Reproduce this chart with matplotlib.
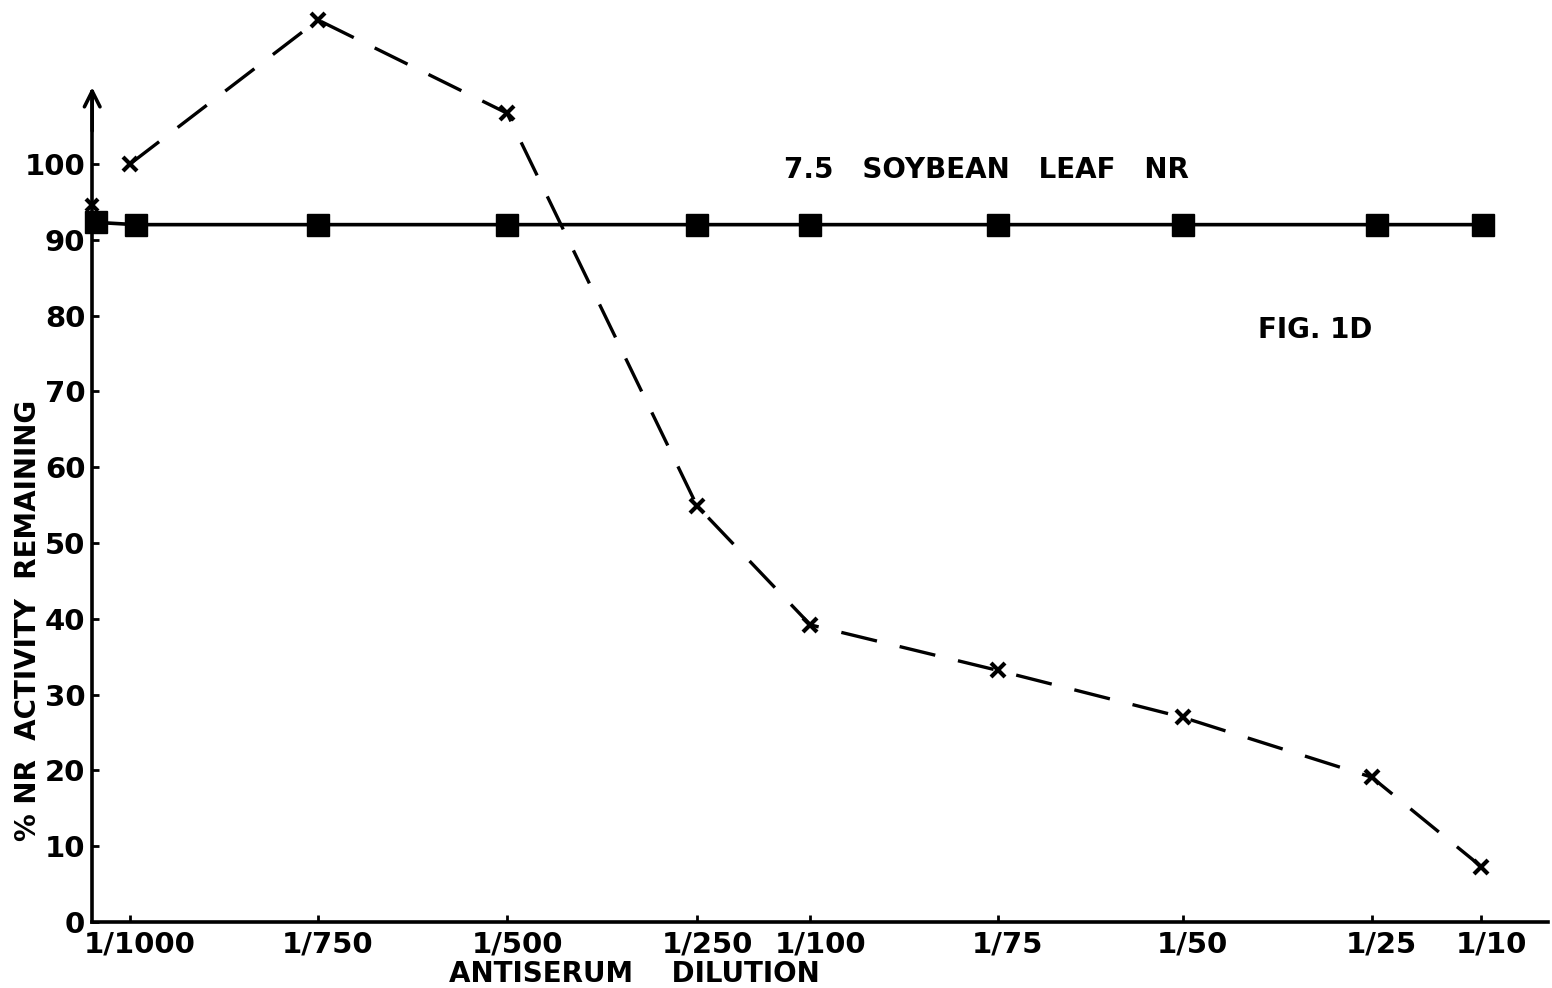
import matplotlib
matplotlib.use("Agg")
import matplotlib.pyplot as plt
from matplotlib.transforms import ScaledTranslation

# Data
dilutions = ['1/1000', '1/750', '1/500', '1/250', '1/100', '1/75', '1/50', '1/25', '1/10']
x_pos = [0, 0.995, 1.995, 3.0, 3.6, 4.59, 5.57, 6.57, 7.15]   # position of each dilution on the axis

axis_x = -0.2                     # first readings sit on the y axis
dashed_at_axis = 94.6
solid_at_axis = 92.3

dashed_vals = [100, 119, 106.7, 54.9, 39.2, 33.2, 27.0, 19.1, 7.3]
solid_vals = [92, 92, 92, 92, 92, 92, 92, 92, 92]
solid_x = [0.03, 0.995, 1.995, 3.0, 3.6, 4.59, 5.57, 6.6, 7.16]

yticks = [0, 10, 20, 30, 40, 50, 60, 70, 80, 90, 100]

plt.rcParams['font.family'] = ['DejaVu Sans']

fig = plt.figure(figsize=(15.52, 9.88), dpi=100)
ax = fig.add_axes([0, 0, 1, 1])
ax.set_xlim(-130 / 189, 1422 / 189)
ax.set_ylim(-66 / 7.58, 922 / 7.58)

# lines
ax.plot(x_pos, dashed_vals, color='black', lw=2.4, dashes=(11, 7),
        marker='x', ms=10, mew=3, zorder=3)
ax.plot([axis_x], [dashed_at_axis], color='black', marker='x', ms=9, mew=3, ls='none', zorder=3)
ax.plot([axis_x + 0.02] + solid_x, [solid_at_axis] + solid_vals, color='black', lw=2.6,
        marker='s', ms=16, mec='black', mfc='black', zorder=3)

# axes
for s in ['top', 'right']:
    ax.spines[s].set_visible(False)
ax.spines['left'].set_position(('data', axis_x))
ax.spines['bottom'].set_position(('data', 0))
ax.spines['left'].set_bounds(0, 109.5)
ax.spines['bottom'].set_bounds(axis_x, 7.5)
ax.spines['left'].set_linewidth(2.6)
ax.spines['bottom'].set_linewidth(2.6)
ax.annotate('', xy=(axis_x, 110.5), xytext=(axis_x, 104),
            arrowprops=dict(arrowstyle='->', lw=2.6, color='black', mutation_scale=28))
ax.annotate('', xy=(7.53, 0), xytext=(7.3, 0),
            arrowprops=dict(arrowstyle='->', lw=2.6, color='black', mutation_scale=28))

ax.set_xticks(x_pos)
ax.set_xticklabels(dilutions)
ax.set_yticks(yticks)
ax.set_yticklabels([str(v) for v in yticks])
ax.tick_params(direction='in', length=5, width=2, labelsize=21)
ax.tick_params(axis='x', pad=6)
ax.tick_params(axis='y', pad=5)
shift = ScaledTranslation(10 / 100, 0, fig.dpi_scale_trans)
for lab in ax.get_xticklabels():
    lab.set_fontweight('bold')
    lab.set_transform(lab.get_transform() + shift)
for lab in ax.get_yticklabels():
    lab.set_fontweight('bold')

# texts
ax.text(-0.54, 39.8, '% NR  ACTIVITY  REMAINING', rotation=90, ha='center', va='center',
        fontsize=20, fontweight='bold')
ax.text(2.67, -4.95, 'ANTISERUM    DILUTION', ha='center', va='top',
        fontsize=20, fontweight='bold')
ax.text(4.53, 99.2, '7.5   SOYBEAN   LEAF   NR', ha='center', va='center',
        fontsize=20, fontweight='bold')
ax.text(6.27, 78.1, 'FIG. 1D', ha='center', va='center',
        fontsize=20, fontweight='bold')

fig.savefig('out.png', dpi=100)
